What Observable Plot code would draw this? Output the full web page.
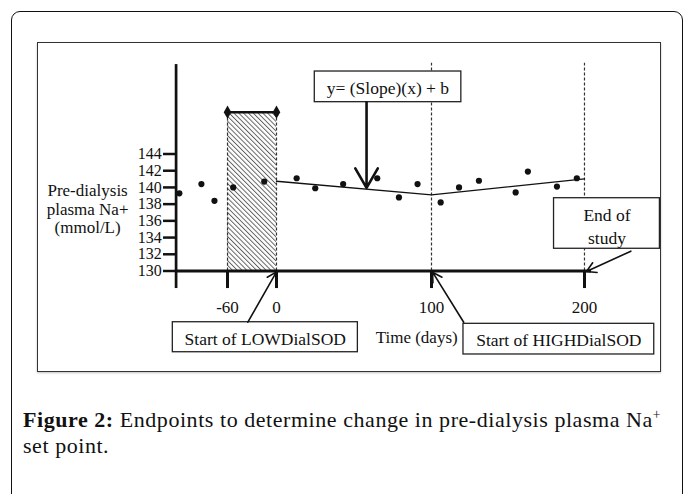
<!DOCTYPE html>
<html><head><meta charset="utf-8">
<script src="https://cdn.jsdelivr.net/npm/d3@7"></script>
<script src="https://cdn.jsdelivr.net/npm/@observablehq/plot@0.6"></script>
<style>
html,body{margin:0;padding:0;background:#fff;width:683px;height:494px;overflow:hidden;position:relative;font-family:"Liberation Serif",serif;}
#card{position:absolute;left:11px;top:11px;width:671.5px;height:540px;border:1.5px solid #111;border-radius:9px;box-sizing:border-box;}
#inner{position:absolute;left:37px;top:41.5px;width:624px;height:330px;border:1.5px solid #333;box-sizing:border-box;box-shadow:0 1px 2px rgba(0,0,0,.25);}
#chart{position:absolute;left:0;top:0;}
#caption{position:absolute;left:23px;top:407px;font-size:22px;letter-spacing:0.55px;line-height:26px;color:#111;white-space:nowrap;}
#caption sup{font-size:0.62em;line-height:0;vertical-align:0.6em;}
</style></head>
<body>
<div id="card"></div>
<div id="inner"></div>
<div id="chart"></div>
<div id="caption"><b>Figure 2:</b> Endpoints to determine change in pre-dialysis plasma Na<sup>+</sup><br>set point.</div>
<script>
// ---- data ----
const days = [-119, -92, -76, -53, -15, 13, 25, 43, 65, 79, 91, 106, 118, 131, 155, 163, 182, 195];
const naValues = [139.3, 140.4, 138.4, 140.0, 140.7, 141.1, 139.9, 140.4, 141.1, 138.8, 140.4, 138.2, 140.0, 140.8, 139.4, 141.9, 140.1, 141.1];
const trendDays = [0, 100, 200];
const trendValues = [140.74, 139.11, 141.03];
const xTicks = [-60, 0, 100, 200];
const xTickLabels = ["-60", "0", "100", "200"];
const yTicks = [130, 132, 134, 136, 138, 140, 142, 144];
const yTickLabels = ["130", "132", "134", "136", "138", "140", "142", "144"];
const lowPeriod = [-60, 0];
const phaseMarks = [100, 200];
const yTitle = "Pre-dialysis\nplasma Na+\n(mmol/L)";
const xTitle = "Time (days)";
const equationLabel = "y= (Slope)(x) + b";
const lowLabel = "Start of LOWDialSOD";
const highLabel = "Start of HIGHDialSOD";
const endLabel = "End of\nstudy";

// schematic (broken) time axis: days -> axis units
const breakDays = [-60, 0, 100, 200];
const breakUnits = [-31.6, 0, 100, 198.7];
const dayToUnit = d3.scaleLinear(breakDays, breakUnits);

// ---- annotation anchors (days / mmol/L) ----
const axisX = -123, axisYTop = 154.7, axisYBottom = 127.9, axisXEnd = 204.6;
const boxes = [
  {x1: 24.7, x2: 119.5, y1: 150.2, y2: 153.87},
  {x1: -127, x2: 52.5, y1: 120.28, y2: 123.87},
  {x1: 120.9, x2: 245.6, y1: 120.01, y2: 123.68},
  {x1: 180.1, x2: 249.3, y1: 132.66, y2: 138.71}
];
const labels = [
  {x: 71.9, y: 152.04, text: equationLabel},
  {x: -13.7, y: 122.04, text: lowLabel},
  {x: 183.2, y: 121.85, text: highLabel},
  {x: 214.7, y: 135.45, text: endLabel}
];
const thinArrows = [
  {x1: -35.1, y1: 123.87, x2: 0, y2: 129.9},
  {x1: 121.05, y1: 123.87, x2: 100.7, y2: 129.86},
  {x1: 230.3, y1: 132.37, x2: 201.3, y2: 129.94}
];
const thickArrow = [{x1: 58.1, y1: 150.2, x2: 58.1, y2: 139.95}];

const pts = days.map((d, i) => ({day: d, na: naValues[i]}));
const trend = trendDays.map((d, i) => ({day: d, na: trendValues[i]}));
const font = "Liberation Serif";

const chart = Plot.plot({
  width: 683, height: 380, margin: 0,
  style: {background: "transparent", fontFamily: font, fontSize: "17px", color: "#111", overflow: "visible"},
  x: {type: "linear", transform: dayToUnit, domain: [-178.06, 262.58], range: [0, 683], axis: null},
  y: {domain: [130, 144], range: [270.5, 153.5], axis: null},
  marks: [
    // hatched LOW lead-in period
    Plot.rect([lowPeriod], {x1: d => d[0], x2: d => d[1], y1: 130, y2: 149, fill: "url(#hatch)"}),
    Plot.ruleX(lowPeriod, {x: d => d, y1: 130, y2: 149, stroke: "#333", strokeWidth: 1.2, strokeDasharray: "3,2"}),
    Plot.ruleY([149], {x1: lowPeriod[0], x2: lowPeriod[1], stroke: "#111", strokeWidth: 2.5}),
    Plot.dot(lowPeriod, {x: d => d, y: 149, symbol: "diamond", r: 4, fill: "#111"}),
    // dashed phase lines
    Plot.ruleX(phaseMarks, {x: d => d, y1: 130, y2: 154.85, stroke: "#333", strokeWidth: 1.2, strokeDasharray: "3,2"}),
    // axes
    Plot.ruleX([axisX], {x: d => d, y1: axisYBottom, y2: axisYTop, stroke: "#111", strokeWidth: 2.7}),
    Plot.ruleY([130], {x1: axisX, x2: axisXEnd, stroke: "#111", strokeWidth: 3}),
    Plot.ruleX(xTicks, {x: d => d, y1: axisYBottom, y2: 130, stroke: "#111", strokeWidth: 3}),
    Plot.ruleY(yTicks, {y: d => d, x1: -138.4, x2: axisX, stroke: "#111", strokeWidth: 2.5}),
    Plot.text(yTicks, {x: -140.6, y: d => d, text: (d, i) => yTickLabels[i], textAnchor: "end", fontSize: 16, fill: "#111"}),
    Plot.text(xTicks, {x: d => d, y: 125.63, text: (d, i) => xTickLabels[i], fontSize: 17, fill: "#111"}),
    Plot.text([yTitle], {x: -231.4, y: 137.42, text: d => d, fontSize: 17, lineHeight: 1.09, fill: "#111"}),
    Plot.text([xTitle], {x: 117.1, y: 122.04, text: d => d, textAnchor: "end", fontSize: 17, fill: "#111"}),
    // trend + data
    Plot.line(trend, {x: "day", y: "na", stroke: "#111", strokeWidth: 1.3}),
    Plot.dot(pts, {x: "day", y: "na", r: 3.1, fill: "#111"}),
    // annotations
    Plot.rect(boxes, {x1: "x1", x2: "x2", y1: "y1", y2: "y2", fill: "white", stroke: "#222", strokeWidth: 1.3}),
    Plot.text(labels, {x: "x", y: "y", text: "text", fontSize: 17.5, lineHeight: 1.26, fill: "#111"}),
    Plot.arrow(thinArrows, {x1: "x1", y1: "y1", x2: "x2", y2: "y2", stroke: "#111", strokeWidth: 1.6, headLength: 10}),
    Plot.arrow(thickArrow, {x1: "x1", y1: "y1", x2: "x2", y2: "y2", stroke: "#111", strokeWidth: 2.6, headLength: 13})
  ]
});

// hatch pattern definition
const defs = d3.create("svg:defs");
const pat = defs.append("pattern").attr("id", "hatch").attr("patternUnits", "userSpaceOnUse")
  .attr("width", 3.4).attr("height", 3.4).attr("patternTransform", "rotate(-45)");
pat.append("rect").attr("width", 3.4).attr("height", 3.4).attr("fill", "white");
pat.append("line").attr("x1", 0.5).attr("y1", 0).attr("x2", 0.5).attr("y2", 3.4).attr("stroke", "#555").attr("stroke-width", 0.9);
chart.insertBefore(defs.node(), chart.firstChild);
document.getElementById("chart").appendChild(chart);
</script>
</body></html>
